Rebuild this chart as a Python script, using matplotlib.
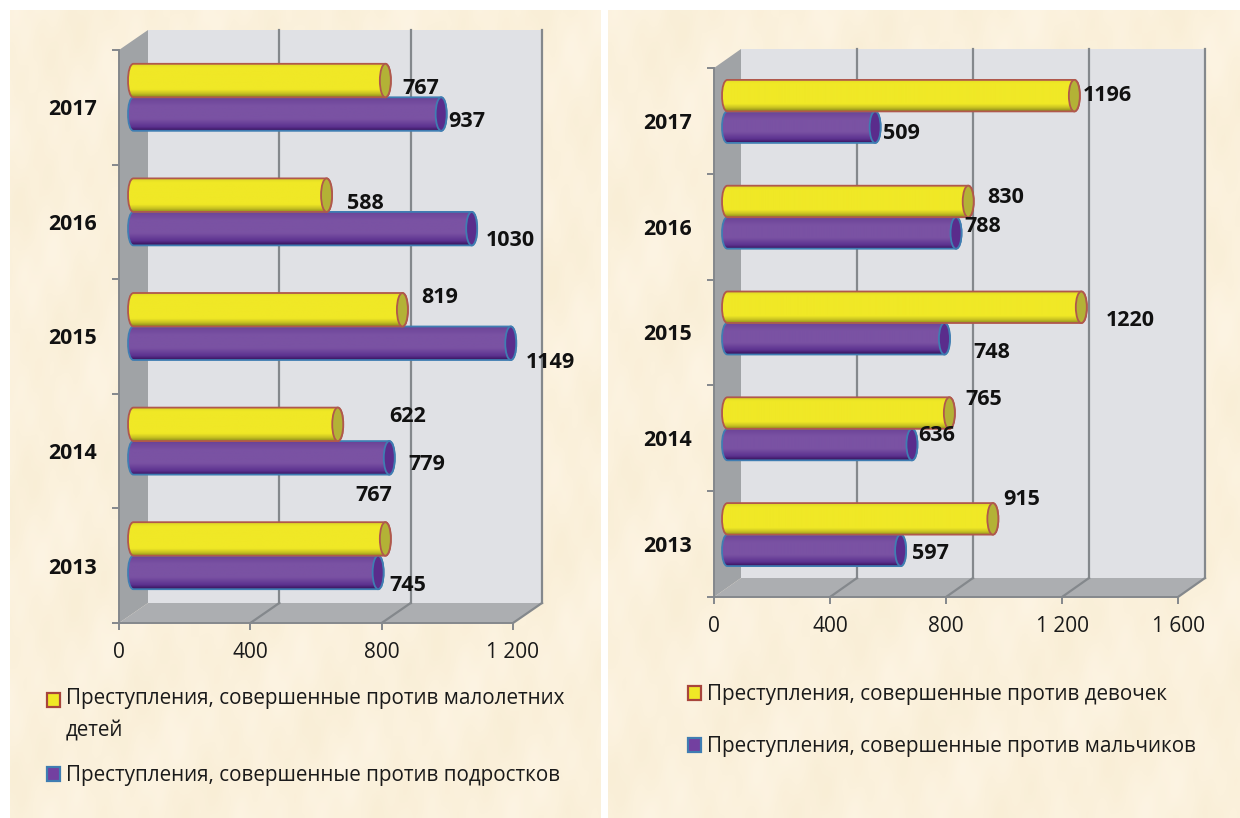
import numpy as np
import matplotlib
matplotlib.use("Agg")
import matplotlib.pyplot as plt
from matplotlib.colors import LinearSegmentedColormap
from matplotlib.legend_handler import HandlerPatch
from matplotlib.patches import Ellipse, PathPatch, Polygon, Rectangle
from matplotlib.path import Path

plt.rcParams["font.family"] = ["Open Sans", "DejaVu Sans"]

years = ["2013", "2014", "2015", "2016", "2017"]

young_children = [767, 622, 819, 588, 767]
teenagers = [745, 779, 1149, 1030, 937]
girls = [915, 765, 1220, 830, 1196]
boys = [597, 636, 748, 788, 509]

left_ticks = [0, 400, 800, 1200]
left_tick_labels = ["0", "400", "800", "1 200"]
right_ticks = [0, 400, 800, 1200, 1600]
right_tick_labels = ["0", "400", "800", "1 200", "1 600"]

left_names = ["Преступления, совершенные против малолетних\nдетей",
              "Преступления, совершенные против подростков"]
right_names = ["Преступления, совершенные против девочек",
               "Преступления, совершенные против мальчиков"]

# label offsets from the bar end, in pixels
left_off_y = [(-12, 43), (70, 8), (37, 12), (39, -8), (35, -8)]
left_off_p = [(30, -13), (38, -7), (40, -19), (39, -12), (26, -7)]
right_off_y = [(29, 19), (34, 14), (49, -13), (37, 4), (33, 0)]
right_off_p = [(30, -3), (25, 9), (47, -14), (27, 6), (26, -6)]

W, H = 1240, 818
YELLOW = dict(cmap=[(0, "#dcd524"), (0.12, "#f0e826"), (0.78, "#f0e826"), (0.9, "#c8c222"), (1, "#8f8f1c")],
              edge="#b0584c", end="#b3b236")
PURPLE = dict(cmap=[(0, "#6a4296"), (0.25, "#7a52a3"), (0.65, "#7a52a3"), (0.88, "#5c3290"), (1, "#38125c")],
              edge="#3f7db2", end="#5a2c8c")


def px_axes(fig, x0, x1, y_top, y_bottom):
    return fig.add_axes([x0 / W, 1 - y_bottom / H, (x1 - x0) / W, (y_bottom - y_top) / H])


def cylinder(ax, value, y_mid, height, x_start, ell_w, style, zorder):
    top, bot = y_mid + height / 2, y_mid - height / 2
    end = x_start + value
    bulge = ell_w * 2 / 3
    verts = [(x_start, bot), (end, bot), (end + bulge, bot), (end + bulge, top), (end, top),
             (x_start, top), (x_start - bulge, top), (x_start - bulge, bot), (x_start, bot)]
    codes = [Path.MOVETO, Path.LINETO, Path.CURVE4, Path.CURVE4, Path.CURVE4,
             Path.LINETO, Path.CURVE4, Path.CURVE4, Path.CURVE4]
    outline = PathPatch(Path(verts, codes), fc="none", ec=style["edge"], lw=1.3, zorder=zorder + 0.2,
                        clip_on=False)
    ax.add_patch(outline)
    cm = LinearSegmentedColormap.from_list("cyl", style["cmap"])
    grad = np.linspace(0, 1, 64).reshape(-1, 1)
    img = ax.imshow(grad, cmap=cm, aspect="auto", origin="upper", zorder=zorder,
                    extent=(x_start - ell_w, end + ell_w, bot, top))
    img.set_clip_path(outline)
    ax.add_patch(Ellipse((end, y_mid), ell_w, height, fc=style["end"], ec=style["edge"], lw=1.3,
                         zorder=zorder + 0.3, clip_on=False))


def panel(fig, box, series_a, series_b, off_a, off_b, ticks, tick_labels, xmax, dx_px, dy_px, bar_px):
    x0, x1, y_top, y_bottom = box
    ax = px_axes(fig, x0, x1, y_top, y_bottom)
    ax.patch.set_alpha(0)
    ax.set_xlim(0, xmax)
    ax.set_ylim(0, 5)
    ux = xmax / (x1 - x0)
    uy = 5 / (y_bottom - y_top)
    dx, dy = dx_px * ux, dy_px * uy

    # walls of the 3d box
    wall = "#e0e1e5"
    ax.add_patch(Rectangle((dx, dy), xmax, 5, fc=wall, ec="none", zorder=1, clip_on=False))
    ax.add_patch(Polygon([(0, 0), (dx, dy), (dx, 5 + dy), (0, 5)], fc="#a0a3a6", ec="none", zorder=1.1,
                         clip_on=False))
    ax.add_patch(Polygon([(0, 0), (xmax, 0), (xmax + dx, dy), (dx, dy)], fc="#acaeb1", ec="none", zorder=1.1,
                         clip_on=False))
    line = dict(color="#84888c", lw=1.6, zorder=1.5, clip_on=False)
    for t in ticks[1:]:
        ax.plot([t + dx, t + dx], [dy, 5 + dy], **line)
        ax.plot([t, t + dx], [0, dy], **line)

    # bars, the lower one first so that the upper one sits on top
    height = bar_px * uy
    ell_w = 11 * ux
    for i in range(len(years)):
        y_mid = i + 0.5 + dy / 2
        lower, upper = y_mid - height / 2, y_mid + height / 2
        cylinder(ax, series_b[i], lower, height, dx / 2, ell_w, PURPLE, 3)
        cylinder(ax, series_a[i], upper, height, dx / 2, ell_w, YELLOW, 4)
        ax.annotate(str(series_a[i]), (series_a[i] + dx / 2, upper), xytext=off_a[i],
                    textcoords="offset pixels", ha="center", va="center", fontsize=15.5,
                    fontweight="bold", color="#111111", zorder=6)
        ax.annotate(str(series_b[i]), (series_b[i] + dx / 2, lower), xytext=off_b[i],
                    textcoords="offset pixels", ha="center", va="center", fontsize=15.5,
                    fontweight="bold", color="#111111", zorder=6)
    ax.set_xlim(0, xmax)
    ax.set_ylim(0, 5)

    for s in ["top", "right"]:
        ax.spines[s].set_visible(False)
    for s in ["left", "bottom"]:
        ax.spines[s].set_color("#84888c")
        ax.spines[s].set_linewidth(1.4)
        ax.spines[s].set_zorder(2)
    ax.set_xticks(ticks)
    ax.set_xticklabels(tick_labels, fontsize=15, color="#1a1a1a")
    ax.set_yticks(range(6))
    ax.set_yticklabels([])
    ax.set_yticks(np.arange(5) + 0.5, minor=True)
    ax.set_yticklabels(years, minor=True, fontsize=15.4, fontweight="bold", color="#111111")
    for lab in ax.get_yticklabels(minor=True):
        lab.set_va("center_baseline")
    ax.tick_params(axis="x", length=5, width=1.4, color="#84888c", pad=9)
    ax.tick_params(axis="y", which="major", length=5, width=1.4, color="#84888c")
    ax.tick_params(axis="y", which="minor", length=0, pad=16)
    return ax


def key_patch(legend, orig_handle, xdescent, ydescent, width, height, fontsize):
    # two-line labels: keep the key next to the first line
    shift = 11.2 if orig_handle.get_label() == "two lines" else 0
    return Rectangle((-xdescent, -ydescent + shift), width, height)


def legend(ax, names, colors, x_px, y_px, spacing):
    handles = []
    for name, c in zip(names, colors):
        tag = "two lines" if "\n" in name else "one line"
        handles.append(Rectangle((0, 0), 1, 1, fc=c["fc"], ec=c["ec"], lw=1.6, label=tag))
    leg = ax.legend(handles, names, loc="upper left", bbox_to_anchor=(x_px / W, 1 - y_px / H),
                    bbox_transform=ax.figure.transFigure, frameon=False, fontsize=14.9, labelcolor="#1a1a1a",
                    handlelength=0.65, handleheight=0.65, handletextpad=0.25, labelspacing=spacing,
                    borderpad=0, borderaxespad=0,
                    handler_map={Rectangle: HandlerPatch(patch_func=key_patch)})
    for text in leg.get_texts():
        text.set_linespacing(1.69)


fig = plt.figure(figsize=(W / 100, H / 100), dpi=100, facecolor="white")

# parchment background of both panels
bg = fig.add_axes([0, 0, 1, 1], zorder=-1)
bg.set_xlim(0, W)
bg.set_ylim(H, 0)
bg.axis("off")
xx, yy = np.meshgrid(np.arange(0, W, 4), np.arange(0, H, 4))
tex = (np.sin(xx / 31 + yy / 47) + np.sin(xx / 13 - yy / 19 + 1) * 0.7 + np.sin(xx / 71 + yy / 23 + 2)
       + np.sin(xx / 7 + yy / 9) * 0.3)
paper = LinearSegmentedColormap.from_list("paper", ["#f9eed6", "#fbf1dc", "#fdf4e3"])
for extent in [(10, 601, 818, 10), (608, 1240, 818, 10)]:
    bg.imshow(tex, cmap=paper, extent=extent, aspect="auto", zorder=0)
bg.set_xlim(0, W)
bg.set_ylim(H, 0)

ax_l = panel(fig, (119, 513, 50, 623), young_children, teenagers, left_off_y, left_off_p,
             left_ticks, left_tick_labels, 1200, 29, 20, 33.5)
ax_r = panel(fig, (714, 1178, 68, 597), girls, boys, right_off_y, right_off_p,
             right_ticks, right_tick_labels, 1600, 27, 19, 31.5)

yellow_key = dict(fc="#f0e826", ec="#a8453c")
purple_key = dict(fc="#7340a0", ec="#3f7db2")
legend(ax_l, left_names, [yellow_key, purple_key], 47, 688, 1.18)
legend(ax_r, right_names, [yellow_key, purple_key], 688, 684, 1.52)

fig.savefig("out.png", dpi=100)
